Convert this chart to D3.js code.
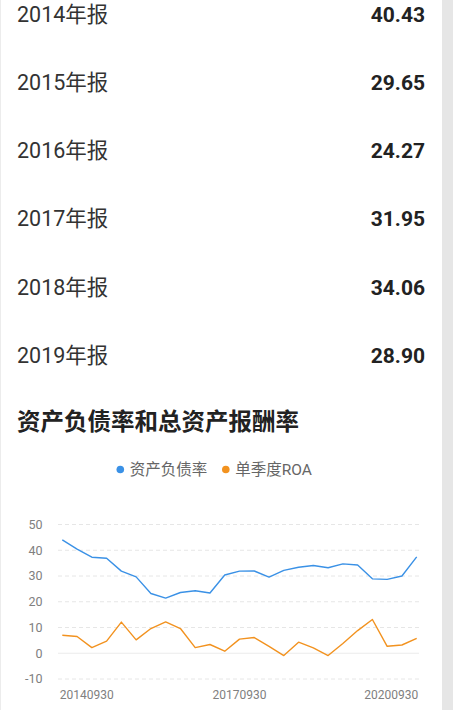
<!DOCTYPE html>
<html>
<head>
<meta charset="utf-8">
<script src="https://cdn.jsdelivr.net/npm/d3@7"></script>
<style>
	body { margin: 0; background: #fff; }
	svg { display: block; }
</style>
</head>
<body>
<script>
// yearly report table
var reportYears = ["2014年报", "2015年报", "2016年报", "2017年报", "2018年报", "2019年报"];
var reportValues = ["40.43", "29.65", "24.27", "31.95", "34.06", "28.90"];

// quarterly series
var dates = [
	"20140930", "20141231", "20150331", "20150630", "20150930", "20151231",
	"20160331", "20160630", "20160930", "20161231", "20170331", "20170630",
	"20170930", "20171231", "20180331", "20180630", "20180930", "20181231",
	"20190331", "20190630", "20190930", "20191231", "20200331", "20200630",
	"20200930"
];
var debtRatio = [44.0, 40.43, 37.3, 36.9, 31.9, 29.65, 23.2, 21.4, 23.6, 24.27, 23.4, 30.4,
	31.9, 31.95, 29.6, 32.2, 33.4, 34.06, 33.2, 34.7, 34.3, 28.9, 28.7, 30.0, 37.4];
var roa = [7.0, 6.5, 2.2, 4.7, 12.1, 5.2, 9.6, 12.2, 9.6, 2.2, 3.4, 0.8,
	5.5, 6.1, 2.7, -0.9, 4.3, 2.1, -0.9, 3.8, 8.8, 13.1, 2.7, 3.2, 5.8];
var seriesNames = ["资产负债率", "单季度ROA"];
var seriesColors = ["#3a91e6", "#f2921f"];
var yTicks = [-10, 0, 10, 20, 30, 40, 50];
var xTickLabels = ["20140930", "20170930", "20200930"];

var width = 453;
var height = 710;
var font = "Roboto, 'Noto Sans CJK SC', sans-serif";

var svg = d3
	.select("body")
	.append("svg")
	.attr("width", width)
	.attr("height", height)
	.style("font-family", font);

// page edges
svg.append("rect").attr("x", 442).attr("y", 0).attr("width", 11).attr("height", height).style("fill", "#e6e6e6");
svg.append("rect").attr("x", 0).attr("y", 0).attr("width", 1).attr("height", height).style("fill", "#ececec");

// table rows
var rows = svg
	.selectAll(".row")
	.data(reportYears)
	.join("g")
	.attr("class", "row")
	.attr("transform", (d, i) => "translate(0," + (21.5 + i * 68.3) + ")");

rows
	.append("text")
	.attr("x", 17)
	.style("font-size", "21.5px")
	.style("fill", "#333")
	.text((d) => d);

rows
	.append("text")
	.attr("x", 425)
	.style("text-anchor", "end")
	.style("font-size", "21px")
	.style("font-weight", "bold")
	.style("fill", "#222")
	.text((d, i) => reportValues[i]);

// title
svg
	.append("text")
	.attr("x", 17)
	.attr("y", 430)
	.style("font-size", "23.5px")
	.style("font-weight", "bold")
	.style("fill", "#222")
	.text("资产负债率和总资产报酬率");

// legend
var legendX = [120.3, 225.8];
var legend = svg
	.selectAll(".legend")
	.data(seriesNames)
	.join("g")
	.attr("class", "legend")
	.attr("transform", (d, i) => "translate(" + legendX[i] + ",469.5)");

legend
	.append("circle")
	.attr("r", 3.8)
	.style("fill", (d, i) => seriesColors[i]);

legend
	.append("text")
	.attr("x", 9.5)
	.attr("dy", "0.35em")
	.style("font-size", "15.5px")
	.style("fill", "#666")
	.text((d) => d);

// chart
var x = d3.scalePoint().domain(dates).range([62.3, 416.7]);
var y = d3.scaleLinear().domain([-10, 50]).range([679, 524.5]);

svg
	.selectAll(".grid")
	.data(yTicks)
	.join("line")
	.attr("class", "grid")
	.attr("x1", 58)
	.attr("x2", 419)
	.attr("y1", (d) => y(d))
	.attr("y2", (d) => y(d))
	.style("stroke", (d) => (d === 0 ? "#ebebeb" : "#e6e6e6"))
	.style("stroke-width", 1)
	.style("stroke-dasharray", (d) => (d === 0 ? null : "4,3"));

svg
	.selectAll(".ylabel")
	.data(yTicks)
	.join("text")
	.attr("class", "ylabel")
	.attr("x", 42.5)
	.attr("y", (d) => y(d))
	.attr("dy", "0.35em")
	.style("text-anchor", "end")
	.style("font-size", "12.5px")
	.style("fill", "#808080")
	.text((d) => d);

svg
	.selectAll(".xlabel")
	.data(xTickLabels)
	.join("text")
	.attr("class", "xlabel")
	.attr("x", (d) => x(d))
	.attr("y", 699)
	.style("text-anchor", (d, i) => (i === 0 ? "start" : i === xTickLabels.length - 1 ? "end" : "middle"))
	.attr("dx", (d, i) => (i === 0 ? -2.5 : i === xTickLabels.length - 1 ? 1.5 : 0))
	.style("font-size", "12px")
	.style("fill", "#808080")
	.text((d) => d);

var line = d3
	.line()
	.x((d, i) => x(dates[i]))
	.y((d) => y(d));

svg
	.selectAll(".series")
	.data([debtRatio, roa])
	.join("path")
	.attr("class", "series")
	.attr("d", line)
	.style("fill", "none")
	.style("stroke", (d, i) => seriesColors[i])
	.style("stroke-width", 1.4)
	.style("stroke-linejoin", "round");
</script>
</body>
</html>
